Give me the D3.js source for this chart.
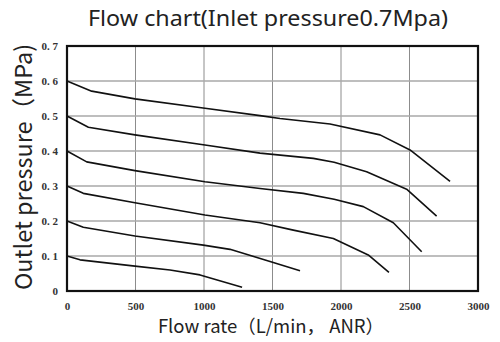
<!DOCTYPE html>
<html>
<head>
<meta charset="utf-8">
<script src="https://cdn.jsdelivr.net/npm/d3@7"></script>
<style>
  html, body { margin: 0; padding: 0; background: #fff; }
  svg { display: block; }
</style>
</head>
<body>
<svg id="chart" width="500" height="342"></svg>
<script>
// Outlet pressure curves, one per set pressure (flow L/min, pressure MPa)
const setPressures = [0.6, 0.5, 0.4, 0.3, 0.2, 0.1];
const flow06 = [0, 180, 496, 1007, 1409, 1555, 1920, 2285, 2504, 2796];
const pres06 = [0.6, 0.571, 0.549, 0.522, 0.501, 0.493, 0.477, 0.446, 0.403, 0.313];
const flow05 = [0, 156, 496, 1007, 1409, 1798, 1950, 2187, 2479, 2698];
const pres05 = [0.5, 0.468, 0.446, 0.417, 0.394, 0.379, 0.368, 0.341, 0.291, 0.214];
const flow04 = [0, 144, 496, 1007, 1409, 1725, 1950, 2163, 2382, 2589];
const pres04 = [0.4, 0.369, 0.344, 0.312, 0.293, 0.279, 0.262, 0.241, 0.195, 0.112];
const flow03 = [0, 119, 496, 1007, 1409, 1652, 1944, 2199, 2350];
const pres03 = [0.3, 0.279, 0.252, 0.217, 0.195, 0.174, 0.15, 0.103, 0.053];
const flow02 = [0, 119, 496, 995, 1190, 1482, 1701];
const pres02 = [0.2, 0.182, 0.157, 0.131, 0.119, 0.084, 0.058];
const flow01 = [0, 95, 496, 752, 971, 1278];
const pres01 = [0.1, 0.089, 0.071, 0.06, 0.046, 0.011];

const xTicks = [0, 500, 1000, 1500, 2000, 2500, 3000];
const yTicks = [0, 0.1, 0.2, 0.3, 0.4, 0.5, 0.6, 0.7];
const yTickLabels = ["0", "0. 1", "0. 2", "0. 3", "0. 4", "0. 5", "0. 6", "0. 7"];

const titleText = "Flow chart(Inlet pressure0.7Mpa)";
const xTitle = "Flow rate\uFF08L/min\uFF0C ANR\uFF09";
const yTitle = "Outlet pressure\uFF08MPa)";

const curves = [
  [flow06, pres06], [flow05, pres05], [flow04, pres04],
  [flow03, pres03], [flow02, pres02], [flow01, pres01]
].map(([f, p]) => f.map((v, i) => ({ x: v, y: p[i] })));

const svg = d3.select("#chart");
const plotL = 67, plotR = 478, plotT = 46, plotB = 291;

const x = d3.scaleLinear().domain([0, 3000]).range([plotL, plotR]);
const y = d3.scaleLinear().domain([0, 0.7]).range([plotB, plotT]);

// grid
svg.append("g").selectAll("line")
  .data(xTicks.slice(1, -1)).join("line")
  .attr("x1", d => x(d)).attr("x2", d => x(d))
  .attr("y1", plotT).attr("y2", plotB)
  .attr("stroke", "#8c8c8c").attr("stroke-width", 1);
svg.append("g").selectAll("line")
  .data(yTicks.slice(1, -1)).join("line")
  .attr("x1", plotL).attr("x2", plotR)
  .attr("y1", d => y(d)).attr("y2", d => y(d))
  .attr("stroke", "#a8a8a8").attr("stroke-width", 1.4);

// curves
const line = d3.line().x(d => x(d.x)).y(d => y(d.y)).curve(d3.curveLinear);
svg.append("g").selectAll("path")
  .data(curves).join("path")
  .attr("d", line)
  .attr("fill", "none")
  .attr("stroke", "#111")
  .attr("stroke-width", 1.6)
  .attr("stroke-linejoin", "round");

// frame
svg.append("rect")
  .attr("x", plotL).attr("y", plotT)
  .attr("width", plotR - plotL).attr("height", plotB - plotT)
  .attr("fill", "none").attr("stroke", "#111").attr("stroke-width", 2.2);

// tick labels
const tickFont = "'Liberation Serif', 'DejaVu Serif', serif";
const xAxis = d3.axisBottom(x).tickValues(xTicks).tickSize(0).tickPadding(11)
  .tickFormat(d3.format("d"));
const gx = svg.append("g").attr("transform", `translate(0,${plotB})`).call(xAxis);
gx.select(".domain").remove();
gx.selectAll("text")
  .attr("font-family", tickFont).attr("font-size", 11).attr("font-weight", "bold")
  .attr("fill", "#333");

const yAxis = d3.axisLeft(y).tickValues(yTicks).tickSize(0).tickPadding(9)
  .tickFormat((d, i) => yTickLabels[i]);
const gy = svg.append("g").attr("transform", `translate(${plotL},0)`).call(yAxis);
gy.select(".domain").remove();
gy.selectAll("text")
  .attr("font-family", tickFont).attr("font-size", 11).attr("font-weight", "bold")
  .attr("fill", "#333");

// titles
const sans = "'Noto Sans CJK SC', 'Noto Sans', sans-serif";
svg.append("text")
  .attr("x", 268).attr("y", 25.5)
  .attr("text-anchor", "middle")
  .attr("font-family", "'Noto Sans', sans-serif").attr("font-size", 21.5).attr("fill", "#222")
  .attr("textLength", 360).attr("lengthAdjust", "spacingAndGlyphs")
  .text(titleText);

svg.append("text")
  .attr("x", 271).attr("y", 333)
  .attr("text-anchor", "middle")
  .attr("font-family", sans).attr("font-size", 18.5).attr("fill", "#222")
  .text(xTitle);

svg.append("text")
  .attr("transform", "translate(32,167) rotate(-90)")
  .attr("text-anchor", "middle")
  .attr("font-family", sans).attr("font-size", 23.5).attr("fill", "#222")
  .text(yTitle);
</script>
</body>
</html>
